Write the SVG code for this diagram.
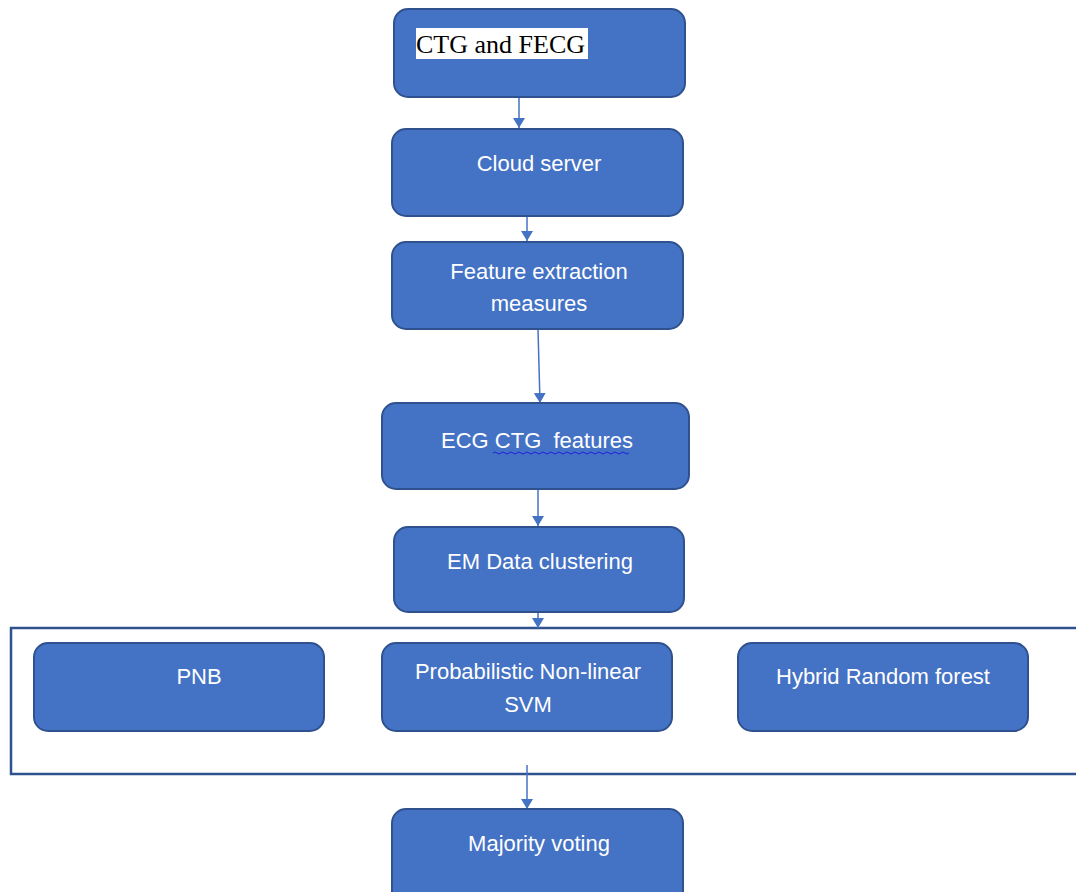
<svg xmlns="http://www.w3.org/2000/svg" width="1076" height="892" viewBox="0 0 1076 892">
<defs>
<style>
.node{fill:#4472C4;stroke:#2F528F;stroke-width:2}
.lbl{font-family:"Liberation Sans",Arial,sans-serif;font-size:22px;fill:#FFFFFF;text-anchor:middle}
.conn{stroke:#4472C4;stroke-width:1.5;fill:none;marker-end:url(#ah)}
</style>
<marker id="ah" viewBox="0 0 10 12" refX="10" refY="6" markerWidth="10" markerHeight="12" markerUnits="userSpaceOnUse" orient="auto">
<path d="M0,0 L10,6 L0,12 z" fill="#4472C4"/>
</marker>
</defs>
<rect x="0" y="0" width="1076" height="892" fill="#FFFFFF"/>
<g id="container">
<rect x="11" y="628" width="1080" height="146" fill="none" stroke="#2F528F" stroke-width="2.5"/>
</g>
<g id="connectors">
<line class="conn" x1="519" y1="97" x2="519" y2="128"/>
<line class="conn" x1="527" y1="216" x2="527" y2="241"/>
<line class="conn" x1="538" y1="329" x2="540" y2="403"/>
<line class="conn" x1="538" y1="489" x2="538" y2="526"/>
<line class="conn" x1="538" y1="612" x2="538" y2="628"/>
<line class="conn" x1="527" y1="765" x2="527" y2="809"/>
</g>
<g id="n1">
<rect class="node" x="394" y="9" width="291" height="88" rx="14"/>
<rect x="416" y="28" width="172" height="31" fill="#FFFFFF"/>
<text x="416" y="53" font-family="Liberation Serif,'Times New Roman',serif" font-size="26" fill="#000000">CTG and FECG</text>
</g>
<g id="n2">
<rect class="node" x="392" y="129" width="291" height="87" rx="14"/>
<text class="lbl" x="539" y="171">Cloud server</text>
</g>
<g id="n3">
<rect class="node" x="392" y="242" width="291" height="87" rx="14"/>
<text class="lbl" x="539" y="279">Feature extraction</text>
<text class="lbl" x="539" y="311">measures</text>
</g>
<g id="n4">
<rect class="node" x="382" y="403" width="307" height="86" rx="14"/>
<text class="lbl" x="537" y="448" xml:space="preserve">ECG CTG  features</text>
<path d="M493,453 q2,-2 4,0 t4,0 t4,0 t4,0 t4,0 t4,0 t4,0 t4,0 t4,0 t4,0 t4,0 t4,0 t4,0 t4,0 t4,0 t4,0 t4,0 t4,0 t4,0 t4,0 t4,0 t4,0 t4,0 t4,0 t4,0 t4,0 t4,0 t4,0 t4,0 t4,0 t4,0 t4,0 t4,0 t4,0" fill="none" stroke="#1F1FE0" stroke-width="1"/>
</g>
<g id="n5">
<rect class="node" x="394" y="527" width="290" height="85" rx="14"/>
<text class="lbl" x="540" y="569">EM Data clustering</text>
</g>
<g id="n6">
<rect class="node" x="34" y="643" width="290" height="88" rx="14"/>
<text class="lbl" x="199" y="684">PNB</text>
</g>
<g id="n7">
<rect class="node" x="382" y="643" width="290" height="88" rx="14"/>
<text class="lbl" x="528" y="679">Probabilistic Non-linear</text>
<text class="lbl" x="528" y="712">SVM</text>
</g>
<g id="n8">
<rect class="node" x="738" y="643" width="290" height="88" rx="14"/>
<text class="lbl" x="883" y="684">Hybrid Random forest</text>
</g>
<g id="n9">
<rect class="node" x="392" y="809" width="291" height="100" rx="14"/>
<text class="lbl" x="539" y="851">Majority voting</text>
</g>
</svg>
